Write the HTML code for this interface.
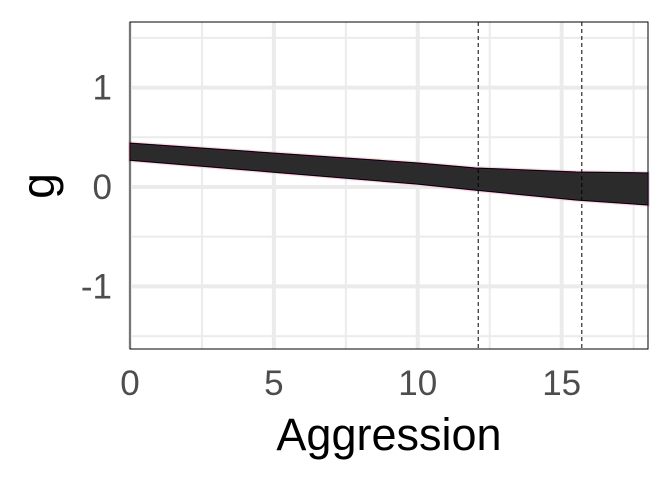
<!DOCTYPE html>
<html><head><meta charset="utf-8"><style>
body{margin:0;background:#fff;}
svg{display:block;font-family:"Liberation Sans",Arial,sans-serif;}
</style></head><body>
<svg id="chart" width="672" height="480"></svg>
<script>
const bandX = [0, 5, 10, 12, 15.5, 18];
const bandUpper = [0.44, 0.34, 0.24, 0.19, 0.15, 0.14];
const bandLower = [0.27, 0.15, 0.03, -0.03, -0.13, -0.18];
const xTicks = [0, 5, 10, 15];
const xMinor = [2.5, 7.5, 12.5, 17.5];
const yTicks = [-1, 0, 1];
const yMinor = [-1.5, -0.5, 0.5, 1.5];
const vlines = [12.1, 15.7];

const L=130,R=648,T=22,B=349;
const x0=0,x1=18,y0=-1.63,y1=1.66;
const sx=v=>L+(v-x0)/(x1-x0)*(R-L);
const sy=v=>B-(v-y0)/(y1-y0)*(B-T);
const svg=document.getElementById('chart');
const NS='http://www.w3.org/2000/svg';
function mk(tag,attrs,parent){const e=document.createElementNS(NS,tag);for(const k in attrs)e.setAttribute(k,attrs[k]);(parent||svg).appendChild(e);return e;}

const grid=mk('g',{});


xMinor.forEach(v=>mk('line',{x1:sx(v),x2:sx(v),y1:T,y2:B,stroke:'#ebebeb','stroke-width':2},grid));
yMinor.forEach(v=>mk('line',{x1:L,x2:R,y1:sy(v),y2:sy(v),stroke:'#ebebeb','stroke-width':2},grid));
xTicks.forEach(v=>mk('line',{x1:sx(v),x2:sx(v),y1:T,y2:B,stroke:'#ebebeb','stroke-width':4},grid));
yTicks.forEach(v=>mk('line',{x1:L,x2:R,y1:sy(v),y2:sy(v),stroke:'#ebebeb','stroke-width':4},grid));

let up=bandX.map((v,i)=>sx(v)+','+sy(bandUpper[i]));
let lo=bandX.map((v,i)=>sx(v)+','+sy(bandLower[i])).reverse();
const glow=mk('polygon',{points:up.concat(lo).join(' '),fill:'none',stroke:'#f3c9c9','stroke-width':4,opacity:0.6});


const band=mk('polygon',{points:up.concat(lo).join(' '),fill:'#2b2b2b',stroke:'#6a2a6a','stroke-width':1.5});


const ul=mk('polyline',{points:up.join(' '),fill:'none',stroke:'#000','stroke-width':1});


const ll=mk('polyline',{points:lo.join(' '),fill:'none',stroke:'#000','stroke-width':1});



vlines.forEach(v=>{const l=mk('line',{x1:sx(v),x2:sx(v),y1:T,y2:B,stroke:'#000','stroke-width':1,'stroke-dasharray':'4,3'});

});

const frame=mk('rect',{x:L,y:T,width:R-L,height:B-T,fill:'none',stroke:'#000','stroke-width':1});



xTicks.forEach(v=>{const t=mk('text',{x:sx(v),y:395,'text-anchor':'middle','font-size':35,fill:'#4d4d4d'});t.textContent=v;

});
yTicks.forEach(v=>{const t=mk('text',{x:112,y:sy(v)+12,'text-anchor':'end','font-size':35,fill:'#4d4d4d'});t.textContent=v;

});
const xt=mk('text',{x:389,y:450,'text-anchor':'middle','font-size':45,fill:'#000'});xt.textContent='Aggression';


const yt=mk('text',{x:0,y:0,'text-anchor':'middle','font-size':46,fill:'#000',transform:'translate(54,186) rotate(-90)'});yt.textContent='g';


</script>
</body></html>
